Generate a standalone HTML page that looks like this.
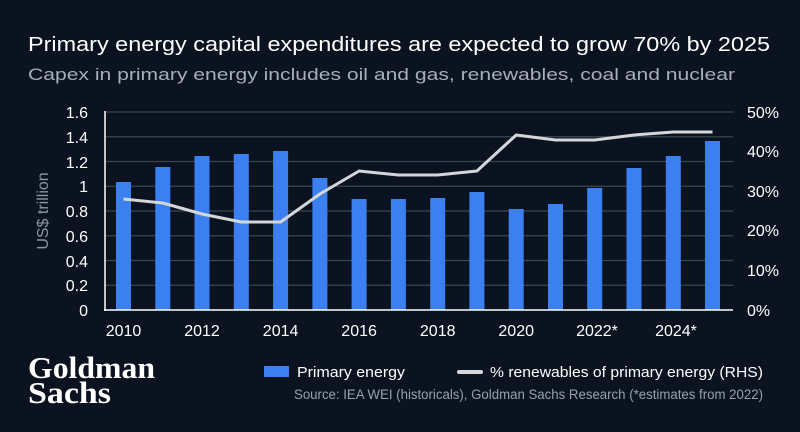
<!DOCTYPE html>
<html><head><meta charset="utf-8"><style>
html,body{margin:0;padding:0;background:#0b1320;}
svg{display:block;font-family:"Liberation Sans",sans-serif;}
</style></head><body>
<svg width="800" height="432" viewBox="0 0 800 432" xmlns="http://www.w3.org/2000/svg">
<rect width="800" height="432" fill="#0b1320"/>
<text x="28" y="51" fill="#ffffff" font-size="20" textLength="742" lengthAdjust="spacingAndGlyphs">Primary energy capital expenditures are expected to grow 70% by 2025</text>
<text x="28" y="80" fill="#a6aeb9" font-size="16.5" textLength="707" lengthAdjust="spacingAndGlyphs">Capex in primary energy includes oil and gas, renewables, coal and nuclear</text>
<g stroke="#3b4452" stroke-width="1.2">
<line x1="105" x2="733" y1="112" y2="112"/><line x1="105" x2="733" y1="136.75" y2="136.75"/>
<line x1="105" x2="733" y1="161.5" y2="161.5"/><line x1="105" x2="733" y1="186.25" y2="186.25"/>
<line x1="105" x2="733" y1="211" y2="211"/><line x1="105" x2="733" y1="235.75" y2="235.75"/>
<line x1="105" x2="733" y1="260.5" y2="260.5"/><line x1="105" x2="733" y1="285.25" y2="285.25"/>
</g>
<g fill="#3b7ff0">
<rect x="116" y="182" width="15" height="128"/>
<rect x="155.3" y="167" width="15" height="143"/>
<rect x="194.5" y="156" width="15" height="154"/>
<rect x="233.8" y="154" width="15" height="156"/>
<rect x="273.1" y="151" width="15" height="159"/>
<rect x="312.4" y="178" width="15" height="132"/>
<rect x="351.6" y="199" width="15" height="111"/>
<rect x="390.9" y="199" width="15" height="111"/>
<rect x="430.2" y="198" width="15" height="112"/>
<rect x="469.4" y="192" width="15" height="118"/>
<rect x="508.7" y="209" width="15" height="101"/>
<rect x="548" y="204" width="15" height="106"/>
<rect x="587.2" y="188" width="15" height="122"/>
<rect x="626.5" y="168" width="15" height="142"/>
<rect x="665.8" y="156" width="15" height="154"/>
<rect x="705" y="141" width="15" height="169"/>
</g>
<polyline fill="none" stroke="#d4d6da" stroke-width="3" stroke-linejoin="round" points="123.5,199 162.8,203 202,214 241.3,222 280.6,222 319.9,194 359.1,171 398.4,175 437.7,175 476.9,171 516.2,135 555.5,140 594.7,140 634,135 673.3,132 712.5,132"/>
<line x1="105" x2="105" y1="111" y2="311" stroke="#ffffff" stroke-width="1.5"/>
<line x1="104" x2="733" y1="310" y2="310" stroke="#ffffff" stroke-width="1.5"/>
<g fill="#ffffff" font-size="16" text-anchor="end">
<text x="88" y="118">1.6</text><text x="88" y="143">1.4</text><text x="88" y="168">1.2</text>
<text x="88" y="192">1</text><text x="88" y="217">0.8</text><text x="88" y="242">0.6</text>
<text x="88" y="267">0.4</text><text x="88" y="291">0.2</text><text x="88" y="316">0</text>
</g>
<g fill="#ffffff" font-size="16">
<text x="747" y="118">50%</text><text x="747" y="157">40%</text><text x="747" y="197">30%</text>
<text x="747" y="236">20%</text><text x="747" y="276">10%</text><text x="747" y="316">0%</text>
</g>
<g fill="#ffffff" font-size="16" text-anchor="middle">
<text x="123.5" y="336">2010</text><text x="202" y="336">2012</text><text x="280.6" y="336">2014</text>
<text x="359.1" y="336">2016</text><text x="437.7" y="336">2018</text><text x="516.2" y="336">2020</text>
<text x="597" y="336">2022*</text><text x="676" y="336">2024*</text>
</g>
<text transform="translate(48,211) rotate(-90)" fill="#8c95a3" font-size="16" text-anchor="middle">US$ trillion</text>
<g fill="#ffffff" font-family="'Liberation Serif',serif" font-weight="bold">
<text x="28" y="378" font-size="31" textLength="127" lengthAdjust="spacingAndGlyphs">Goldman</text>
<text x="28" y="403" font-size="31" textLength="83" lengthAdjust="spacingAndGlyphs">Sachs</text>
</g>
<rect x="264" y="366" width="25" height="11" fill="#3b7ff0"/>
<text x="297" y="377" fill="#ffffff" font-size="15" textLength="108" lengthAdjust="spacingAndGlyphs">Primary energy</text>
<line x1="459" x2="481" y1="372" y2="372" stroke="#d4d6da" stroke-width="4" stroke-linecap="round"/>
<text x="490" y="377" fill="#ffffff" font-size="15" textLength="273" lengthAdjust="spacingAndGlyphs">% renewables of primary energy (RHS)</text>
<text x="294" y="399" fill="#98a1ae" font-size="13.5" textLength="469" lengthAdjust="spacingAndGlyphs">Source: IEA WEI (historicals), Goldman Sachs Research (*estimates from 2022)</text>
</svg>
</body></html>
